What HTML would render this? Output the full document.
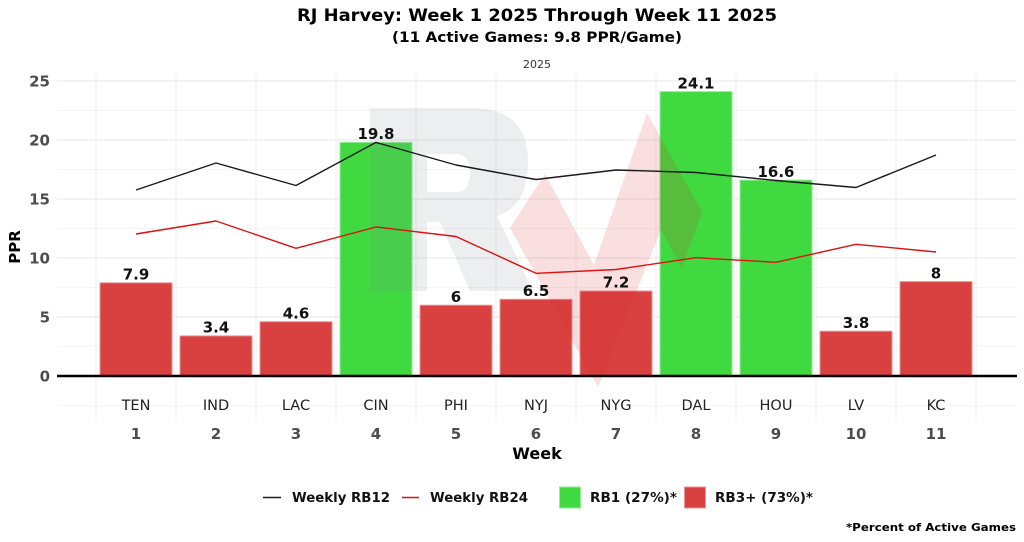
<!DOCTYPE html>
<html>
<head>
<meta charset="utf-8">
<style>
html,body{margin:0;padding:0;background:#fff;}
svg{display:block;}
text{font-family:"DejaVu Sans","Liberation Sans",sans-serif;}
</style>
</head>
<body>
<svg width="1024" height="542" viewBox="0 0 1024 542" xmlns="http://www.w3.org/2000/svg">
<rect width="1024" height="542" fill="#fff"/>

<!-- Titles -->
<text x="537" y="21" font-size="17" font-weight="bold" text-anchor="middle" fill="#000" textLength="480" lengthAdjust="spacingAndGlyphs">RJ Harvey: Week 1 2025 Through Week 11 2025</text>
<text x="537" y="42" font-size="14" font-weight="bold" text-anchor="middle" fill="#000" textLength="290" lengthAdjust="spacingAndGlyphs">(11 Active Games: 9.8 PPR/Game)</text>
<text x="537" y="68" font-size="11" text-anchor="middle" fill="#333">2025</text>

<!-- Grid -->
<g stroke="#ebebeb" stroke-width="0.6">
<line x1="57" y1="405.5" x2="1017" y2="405.5"/>
<line x1="57" y1="346.5" x2="1017" y2="346.5"/>
<line x1="57" y1="287.5" x2="1017" y2="287.5"/>
<line x1="57" y1="228.5" x2="1017" y2="228.5"/>
<line x1="57" y1="169.5" x2="1017" y2="169.5"/>
<line x1="57" y1="110.5" x2="1017" y2="110.5"/>
</g>
<g stroke="#e6e6e6" stroke-width="1.1">
<line x1="57" y1="317" x2="1017" y2="317"/>
<line x1="57" y1="258" x2="1017" y2="258"/>
<line x1="57" y1="199" x2="1017" y2="199"/>
<line x1="57" y1="140" x2="1017" y2="140"/>
<line x1="57" y1="81" x2="1017" y2="81"/>
</g>
<g stroke="#ebebeb" stroke-width="0.8">
<line x1="96" y1="75" x2="96" y2="420"/>
<line x1="176" y1="75" x2="176" y2="420"/>
<line x1="256" y1="75" x2="256" y2="420"/>
<line x1="336" y1="75" x2="336" y2="420"/>
<line x1="416" y1="75" x2="416" y2="420"/>
<line x1="496" y1="75" x2="496" y2="420"/>
<line x1="576" y1="75" x2="576" y2="420"/>
<line x1="656" y1="75" x2="656" y2="420"/>
<line x1="736" y1="75" x2="736" y2="420"/>
<line x1="816" y1="75" x2="816" y2="420"/>
<line x1="896" y1="75" x2="896" y2="420"/>
<line x1="976" y1="75" x2="976" y2="420"/>
</g>

<!-- Bars -->
<g stroke-width="1">
<rect x="100" y="282.8" width="72" height="93.2" fill="rgb(217,64,64)" stroke="rgb(236,150,150)"/>
<rect x="180" y="335.9" width="72" height="40.1" fill="rgb(217,64,64)" stroke="rgb(236,150,150)"/>
<rect x="260" y="321.7" width="72" height="54.3" fill="rgb(217,64,64)" stroke="rgb(236,150,150)"/>
<rect x="340" y="142.4" width="72" height="233.6" fill="rgb(64,217,64)" stroke="rgb(150,236,150)"/>
<rect x="420" y="305.2" width="72" height="70.8" fill="rgb(217,64,64)" stroke="rgb(236,150,150)"/>
<rect x="500" y="299.3" width="72" height="76.7" fill="rgb(217,64,64)" stroke="rgb(236,150,150)"/>
<rect x="580" y="291.0" width="72" height="85.0" fill="rgb(217,64,64)" stroke="rgb(236,150,150)"/>
<rect x="660" y="91.6" width="72" height="284.4" fill="rgb(64,217,64)" stroke="rgb(150,236,150)"/>
<rect x="740" y="180.1" width="72" height="195.9" fill="rgb(64,217,64)" stroke="rgb(150,236,150)"/>
<rect x="820" y="331.2" width="72" height="44.8" fill="rgb(217,64,64)" stroke="rgb(236,150,150)"/>
<rect x="900" y="281.6" width="72" height="94.4" fill="rgb(217,64,64)" stroke="rgb(236,150,150)"/>
</g>

<!-- Watermark -->
<path fill="rgb(120,132,152)" fill-opacity="0.14" fill-rule="evenodd"
 d="M370,108 L472,108 Q528,108 528,162 Q528,206 497,216 L533,291 L470,291 L440,222 L427,222 L427,291 L370,291 Z
    M427,154 L456,154 Q470,154 470,173 Q470,192 456,192 L427,192 Z"/>
<polygon fill="rgb(215,40,40)" fill-opacity="0.15"
 points="510,228 545,174 594,265 647,113 702,212 682,268 661,230 598,387"/>

<!-- Zero line -->
<line x1="57" y1="376" x2="1017" y2="376" stroke="#000" stroke-width="2.6"/>

<!-- Lines -->
<polyline fill="none" stroke="#1a1a1a" stroke-width="1.4" stroke-linejoin="round"
 points="136,190 216,163 296,185.5 376,142.4 456,165 536,179.5 616,170 696,172.5 776,180.5 856,187.5 936,155"/>
<polyline fill="none" stroke="#dd1111" stroke-width="1.4" stroke-linejoin="round"
 points="136,234 216,221 296,248.3 376,227 456,236.5 536,273.3 616,269.5 696,257.7 776,262.3 856,244.3 936,252"/>

<!-- Value labels -->
<g font-size="15" font-weight="bold" text-anchor="middle" fill="#111">
<text x="136" y="279.5">7.9</text>
<text x="216" y="332.5">3.4</text>
<text x="296" y="318.5">4.6</text>
<text x="376" y="139">19.8</text>
<text x="456" y="302">6</text>
<text x="536" y="296">6.5</text>
<text x="616" y="287.5">7.2</text>
<text x="696" y="88.5">24.1</text>
<text x="776" y="177">16.6</text>
<text x="856" y="328">3.8</text>
<text x="936" y="278.5">8</text>
</g>

<!-- Team labels -->
<g font-size="14.5" text-anchor="middle" fill="#222">
<text x="136" y="410">TEN</text>
<text x="216" y="410">IND</text>
<text x="296" y="410">LAC</text>
<text x="376" y="410">CIN</text>
<text x="456" y="410">PHI</text>
<text x="536" y="410">NYJ</text>
<text x="616" y="410">NYG</text>
<text x="696" y="410">DAL</text>
<text x="776" y="410">HOU</text>
<text x="856" y="410">LV</text>
<text x="936" y="410">KC</text>
</g>

<!-- Y ticks -->
<g font-size="15" font-weight="bold" text-anchor="end" fill="#4d4d4d">
<text x="50" y="86.5">25</text>
<text x="50" y="145.5">20</text>
<text x="50" y="204.5">15</text>
<text x="50" y="263.5">10</text>
<text x="50" y="322.5">5</text>
<text x="50" y="381.5">0</text>
</g>
<text transform="translate(20,247) rotate(-90)" font-size="15" font-weight="bold" text-anchor="middle" fill="#000">PPR</text>

<!-- X ticks -->
<g font-size="15" font-weight="bold" text-anchor="middle" fill="#4d4d4d">
<text x="136" y="439">1</text>
<text x="216" y="439">2</text>
<text x="296" y="439">3</text>
<text x="376" y="439">4</text>
<text x="456" y="439">5</text>
<text x="536" y="439">6</text>
<text x="616" y="439">7</text>
<text x="696" y="439">8</text>
<text x="776" y="439">9</text>
<text x="856" y="439">10</text>
<text x="936" y="439">11</text>
</g>
<text x="537" y="459" font-size="16" font-weight="bold" text-anchor="middle" fill="#000">Week</text>

<!-- Legend -->
<line x1="263" y1="497.5" x2="281" y2="497.5" stroke="#1a1a1a" stroke-width="1.4"/>
<text x="292" y="502" font-size="13" font-weight="bold" fill="#111" textLength="98" lengthAdjust="spacingAndGlyphs">Weekly RB12</text>
<line x1="402" y1="497.5" x2="419" y2="497.5" stroke="#dd1111" stroke-width="1.4"/>
<text x="430" y="502" font-size="13" font-weight="bold" fill="#111" textLength="98" lengthAdjust="spacingAndGlyphs">Weekly RB24</text>
<rect x="559.5" y="487" width="21" height="21" fill="rgb(64,217,64)" stroke="rgb(150,236,150)" stroke-width="1"/>
<text x="590" y="502" font-size="13" font-weight="bold" fill="#111" textLength="87" lengthAdjust="spacingAndGlyphs">RB1 (27%)*</text>
<rect x="684.5" y="487" width="21" height="21" fill="rgb(217,64,64)" stroke="rgb(236,150,150)" stroke-width="1"/>
<text x="715" y="502" font-size="13" font-weight="bold" fill="#111" textLength="98" lengthAdjust="spacingAndGlyphs">RB3+ (73%)*</text>

<text x="1016" y="531" font-size="11" font-weight="bold" text-anchor="end" fill="#000" textLength="170" lengthAdjust="spacingAndGlyphs">*Percent of Active Games</text>
</svg>
</body>
</html>
